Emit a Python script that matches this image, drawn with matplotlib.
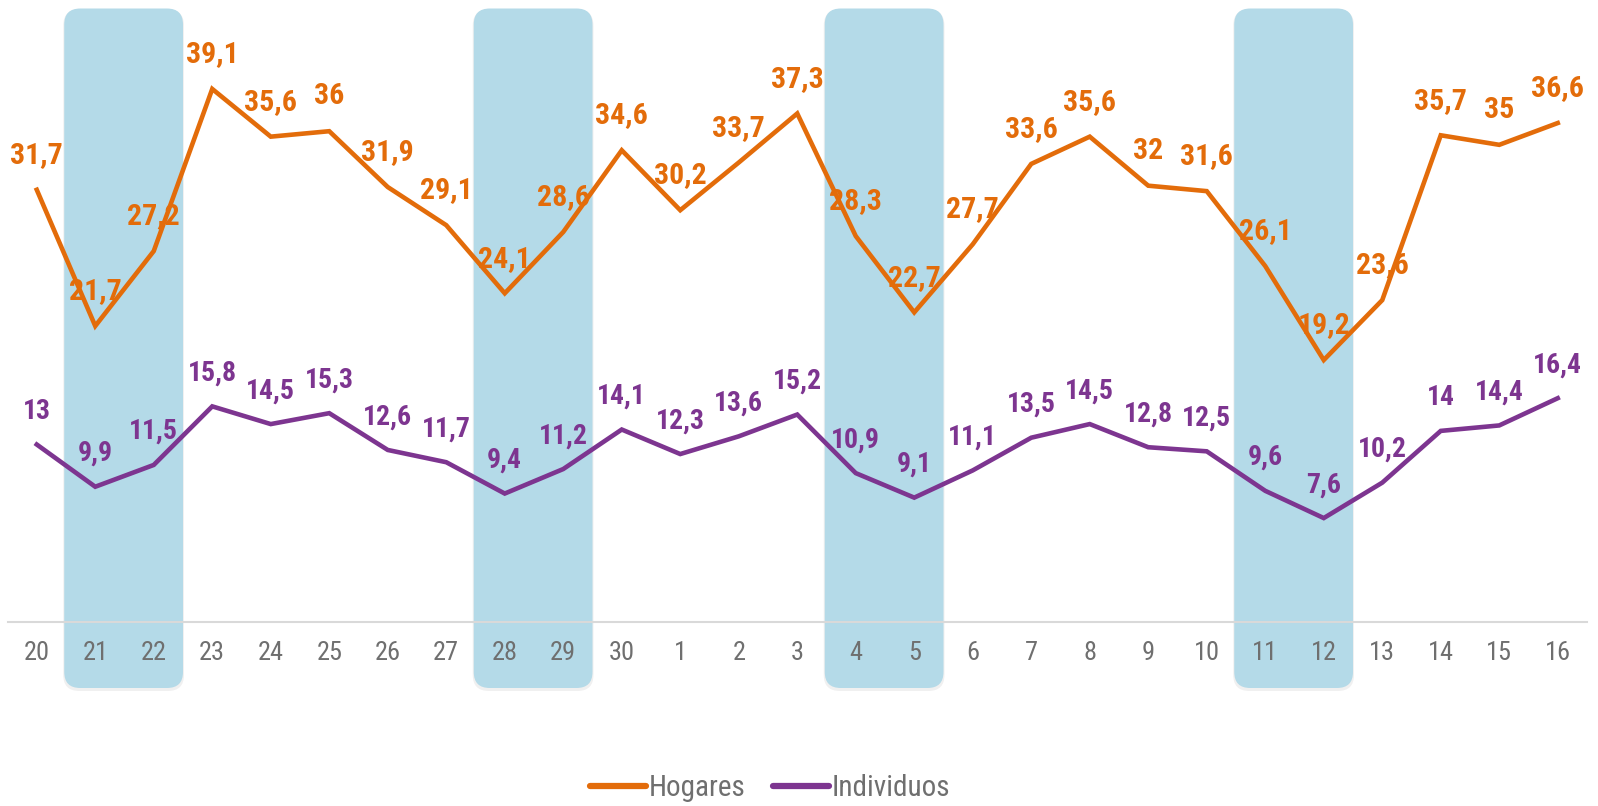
import matplotlib
matplotlib.use("Agg")
import matplotlib.pyplot as plt
from matplotlib.patches import FancyBboxPatch
from matplotlib import font_manager as fm

days = ["20", "21", "22", "23", "24", "25", "26", "27", "28", "29", "30",
        "1", "2", "3", "4", "5", "6", "7", "8", "9", "10", "11", "12",
        "13", "14", "15", "16"]
hogares = [31.7, 21.7, 27.2, 39.1, 35.6, 36, 31.9, 29.1, 24.1, 28.6, 34.6,
           30.2, 33.7, 37.3, 28.3, 22.7, 27.7, 33.6, 35.6, 32, 31.6, 26.1,
           19.2, 23.6, 35.7, 35, 36.6]
individuos = [13, 9.9, 11.5, 15.8, 14.5, 15.3, 12.6, 11.7, 9.4, 11.2, 14.1,
              12.3, 13.6, 15.2, 10.9, 9.1, 11.1, 13.5, 14.5, 12.8, 12.5, 9.6,
              7.6, 10.2, 14, 14.4, 16.4]
weekends = [("21", "22"), ("28", "29"), ("4", "5"), ("11", "12")]

names = {f.name for f in fm.fontManager.ttflist}
narrow = "Liberation Sans Narrow" if "Liberation Sans Narrow" in names else "Roboto Condensed" if "Roboto Condensed" in names else "Liberation Sans"
fam = [narrow, "DejaVu Sans"]

ORANGE = "#E36C0A"
PURPLE = "#7D3590"
BAND = "#B4DAE8"
GRAY = "#6F6F6F"

W, H = 1598, 806
fig = plt.figure(figsize=(W / 100, H / 100), dpi=100)
ax = fig.add_axes([7.5 / W, 1 - 621.6 / H, (1587 - 7.5) / W, (621.6 - 8.6) / H])
ax.patch.set_alpha(0)

x = list(range(len(days)))
ax.set_xlim(-0.5, len(days) - 0.5)
ax.set_ylim(0, 45)

ax.plot(x, hogares, color=ORANGE, lw=3.3, solid_joinstyle="miter", label="Hogares", zorder=3)
ax.plot(x, individuos, color=PURPLE, lw=3.3, solid_joinstyle="miter", label="Individuos", zorder=3)

def fmt(v):
    s = f"{v:g}"
    return s.replace(".", ",")

for xi, v in zip(x, hogares):
    ax.annotate(fmt(v), (xi, v), xytext=(0, 25), textcoords="offset points",
                ha="center", va="center", color=ORANGE, fontsize=21.5,
                fontweight="bold", family=fam, zorder=4, annotation_clip=False)
for xi, v in zip(x, individuos):
    ax.annotate(fmt(v), (xi, v), xytext=(0, 24), textcoords="offset points",
                ha="center", va="center", color=PURPLE, fontsize=20,
                fontweight="bold", family=fam, zorder=4, annotation_clip=False)

ax.set_xticks(x)
ax.set_xticklabels(days, color=GRAY, fontsize=19, family=fam)
ax.tick_params(axis="x", length=0, pad=14)
ax.set_yticks([])
for s in ["top", "right", "left"]:
    ax.spines[s].set_visible(False)
ax.spines["bottom"].set_color("#D9D9D9")
ax.spines["bottom"].set_linewidth(1.5)

# weekend bands in pixel space
fig.canvas.draw()
for a, b in weekends:
    i0, i1 = days.index(a), days.index(b)
    x0 = ax.transData.transform((i0 - 0.53, 0))[0]
    x1 = ax.transData.transform((i1 + 0.5, 0))[0]
    y_top = H - 8.5
    y_bot = H - 688
    r = 16
    shadow = FancyBboxPatch((x0 + r - 1, y_bot + r - 3), (x1 - x0) - 2 * r + 2, (y_top - y_bot) - 2 * r + 2,
                            boxstyle=f"round,pad={r},rounding_size={r}",
                            transform=None, facecolor="#000000", alpha=0.06,
                            edgecolor="none", zorder=-2)
    fig.add_artist(shadow)
    p = FancyBboxPatch((x0 + r, y_bot + r), (x1 - x0) - 2 * r, (y_top - y_bot) - 2 * r,
                       boxstyle=f"round,pad={r},rounding_size={r}",
                       transform=None, facecolor=BAND, edgecolor="none", zorder=-1)
    fig.add_artist(p)

leg = fig.legend(loc="center", bbox_to_anchor=(0.482, 1 - 788 / H), ncol=2, frameon=False,
                 prop={"family": fam, "size": 21}, handlelength=1.9, handletextpad=0.1,
                 columnspacing=0.95, borderpad=0)
for t in leg.get_texts():
    t.set_color(GRAY)
for l in leg.get_lines():
    l.set_linewidth(4.5)
    l.set_solid_capstyle("round")

fig.savefig("out.png", dpi=100)
